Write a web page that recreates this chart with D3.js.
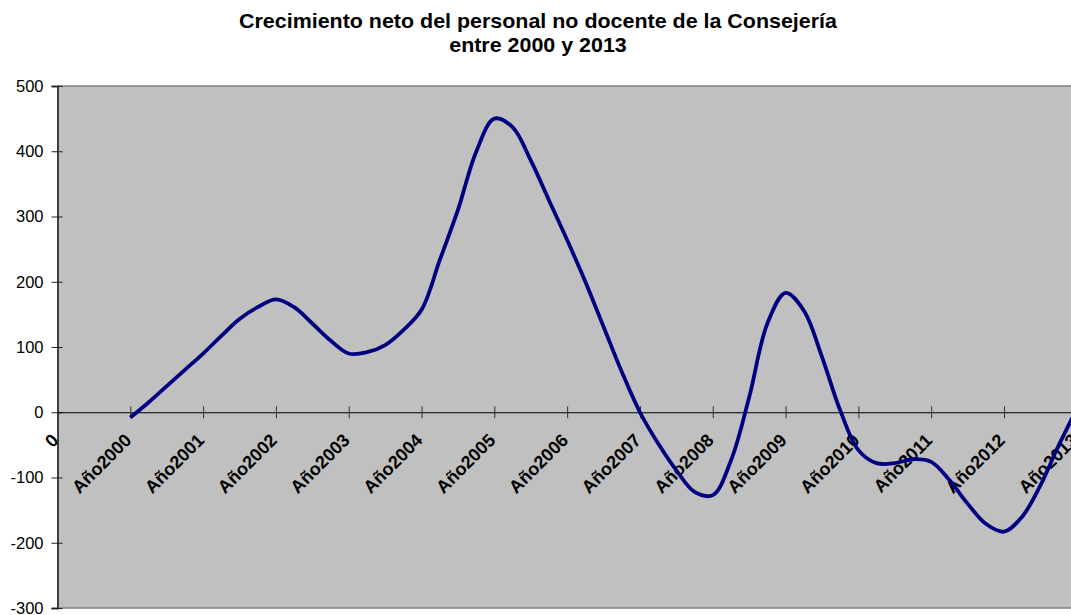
<!DOCTYPE html>
<html>
<head>
<meta charset="utf-8">
<script src="https://cdnjs.cloudflare.com/ajax/libs/d3/7.8.5/d3.min.js"></script>
<style>
  body { margin: 0; background: #fff; }
  svg text { font-family: "Liberation Sans", Arial, sans-serif; }
</style>
</head>
<body>
<div id="grafico"></div>
<script>
/*Datos*/
const tituloLineas = ["Crecimiento neto del personal no docente de la Consejería", "entre 2000 y 2013"];
const categorias = ["0", "Año2000", "Año2001", "Año2002", "Año2003", "Año2004", "Año2005",
                    "Año2006", "Año2007", "Año2008", "Año2009", "Año2010", "Año2011", "Año2012", "Año2013"];
const ejeYValores = [-300, -200, -100, 0, 100, 200, 300, 400, 500];
/*valores trimestrales desde Año2000 hasta Año2013*/
const crecimiento = [
  -8, 15, 40, 65,
  90, 117, 143, 161,
  173, 161, 136, 110,
  90, 92, 103, 126,
  157, 233, 310, 399,
  450, 437, 386, 325,
  264, 200, 131, 62,
  0, -48, -89, -122,
  -127, -74, 23, 136,
  183, 156, 85, 3,
  -58, -78, -78, -72,
  -76, -104, -140, -171,
  -183, -160, -112, -51,
  5
];
const pasoTrimestre = 0.25;

const ancho = 1071, alto = 615;
const izq = 57.5, der = 1076.8, arriba = 86, abajo = 608;

const svg = d3.select("#grafico").append("svg")
  .attr("width", ancho).attr("height", alto);

/*Escalas*/
const x = d3.scaleLinear().domain([0, categorias.length - 1]).range([izq, der]);
const y = d3.scaleLinear().domain([-300, 500]).range([abajo, arriba]);

/*Titulo*/
svg.selectAll("text.titulo")
  .data(tituloLineas)
  .enter().append("text")
  .attr("class", "titulo")
  .attr("transform", (d, i) => "translate(538," + (28 + i * 23.5) + ") scale(1.1,1)")
  .attr("text-anchor", "middle")
  .style("font-size", "19.5px")
  .style("font-weight", "bold")
  .text(d => d);

/*Area de trazado*/
svg.append("rect")
  .attr("x", izq).attr("y", arriba)
  .attr("width", der - izq).attr("height", abajo - arriba)
  .attr("fill", "#c0c0c0");
svg.append("line").attr("x1", izq).attr("x2", der).attr("y1", arriba).attr("y2", arriba)
  .attr("stroke", "#808080").attr("stroke-width", 1.5);
svg.append("line").attr("x1", izq).attr("x2", der).attr("y1", abajo).attr("y2", abajo)
  .attr("stroke", "#808080").attr("stroke-width", 1.5);

/*Eje Y*/
const ejeY = svg.append("g")
  .attr("transform", "translate(" + izq + ",0)")
  .call(d3.axisLeft(y).tickValues(ejeYValores).tickSize(6).tickPadding(8).tickFormat(d => String(d)));
ejeY.select(".domain").attr("stroke", "#404040").attr("stroke-width", 2);
ejeY.selectAll(".tick line").attr("x1", 5).attr("stroke", "#202020");
ejeY.selectAll(".tick text")
  .style("font-size", "16.5px")
  .style("font-family", "'Liberation Sans', Arial, sans-serif")
  .attr("fill", "#000");

/*Eje de categorias en el cero*/
const ejeX = svg.append("g")
  .attr("transform", "translate(0," + y(0) + ")")
  .call(d3.axisBottom(x).tickValues(d3.range(1, categorias.length)).tickSize(6).tickSizeOuter(0).tickFormat(""));
ejeX.select(".domain").attr("stroke", "#000").attr("stroke-width", 1);
ejeX.selectAll(".tick line").attr("y1", -6).attr("stroke", "#303030");

svg.append("g").selectAll("text")
  .data(categorias)
  .enter().append("text")
  .attr("transform", (d, i) => "translate(" + (x(i) - 7) + "," + (y(0) + 20) + ") rotate(-45)")
  .attr("text-anchor", "end")
  .attr("dy", "0.72em")
  .style("font-size", "18px")
  .style("font-weight", "bold")
  .text(d => d);

/*Linea suavizada*/
const linea = d3.line()
  .x((d, i) => x(1 + i * pasoTrimestre))
  .y(d => y(d))
  .curve(d3.curveCatmullRom.alpha(0.5));

svg.append("path")
  .datum(crecimiento)
  .attr("d", linea)
  .attr("fill", "none")
  .attr("stroke", "#000080")
  .attr("stroke-width", 3.8)
  .attr("stroke-linejoin", "round");
</script>
</body>
</html>
